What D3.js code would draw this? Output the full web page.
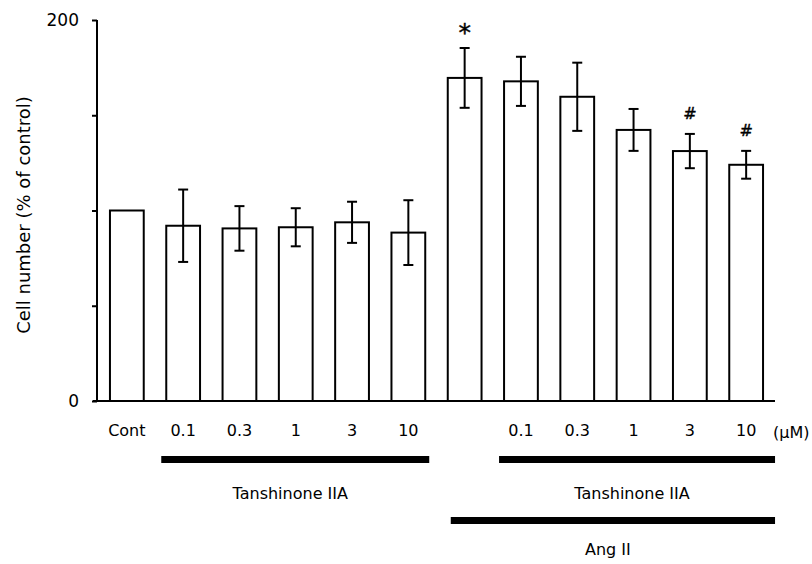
<!DOCTYPE html>
<html>
<head>
<meta charset="utf-8">
<script src="https://cdnjs.cloudflare.com/ajax/libs/d3/7.8.5/d3.min.js"></script>
<style>
body{margin:0;background:#fff;}
svg text{font-family:"DejaVu Sans",sans-serif;fill:#000;}
</style>
</head>
<body>
<div id="chart"></div>
<script>
var labels=['Cont','0.1','0.3','1','3','10','a','0.1','0.3','1','3','10'];
var means=[100,92,90.6,91.2,93.8,88.4,169.6,167.8,159.7,142.3,131.2,124.0];
var errs=[0,19,11.7,10,10.8,17,15.7,12.9,17.9,11,9,7.3];
var marks=['','','','','','','*','','','','#','#'];
var yTicks=[0,50,100,150,200];
var yTickLabels=['0','','','','200'];
var groupNames=['Tanshinone IIA','Tanshinone IIA','Ang II'];
var groupFrom=[1,7,6];
var groupTo=[5,11,11];
var groupRow=[0,0,1];

var width=812,height=564;
var font='"DejaVu Sans",sans-serif';
var svg=d3.select('#chart').append('svg')
  .attr('width',width)
  .attr('height',height);

var ids=labels.map(function(d,i){return i;});
var x=d3.scaleBand().domain(ids).range([98.7,774.3]).paddingInner(0.4).paddingOuter(0.2);
var y=d3.scaleLinear().domain([0,200]).range([401,20]);
var bw=x.bandwidth();

// bars
svg.selectAll('rect.bar')
  .data(ids)
  .enter()
  .append('rect')
  .attr('class','bar')
  .attr('x',function(i){return x(i);})
  .attr('y',function(i){return y(means[i]);})
  .attr('width',bw)
  .attr('height',function(i){return y(0)-y(means[i]);})
  .attr('fill','white')
  .attr('stroke','black')
  .attr('stroke-width',2);

// error bars (cont has none)
var withErr=ids.filter(function(i){return errs[i]>0;});
var eb=svg.selectAll('g.err')
  .data(withErr)
  .enter()
  .append('g')
  .attr('class','err')
  .attr('transform',function(i){return 'translate('+(x(i)+bw/2)+',0)';});
eb.append('line')
  .attr('x1',0).attr('x2',0)
  .attr('y1',function(i){return y(means[i]+errs[i]);})
  .attr('y2',function(i){return y(means[i]-errs[i]);});
eb.append('line')
  .attr('x1',-5).attr('x2',5)
  .attr('y1',function(i){return y(means[i]+errs[i]);})
  .attr('y2',function(i){return y(means[i]+errs[i]);});
eb.append('line')
  .attr('x1',-5).attr('x2',5)
  .attr('y1',function(i){return y(means[i]-errs[i]);})
  .attr('y2',function(i){return y(means[i]-errs[i]);});
svg.selectAll('g.err line').attr('stroke','black').attr('stroke-width',2);

// significance marks
svg.selectAll('text.mark')
  .data(ids.filter(function(i){return marks[i]!='';}))
  .enter()
  .append('text')
  .attr('class','mark')
  .attr('x',function(i){return x(i)+bw/2;})
  .attr('y',function(i){
    if(marks[i]=='*'){
      return y(means[i]+errs[i])-7;
    }else {
      return y(means[i]+errs[i])-15;
    }
  })
  .attr('text-anchor','middle')
  .style('font-size',function(i){return marks[i]=='*'?'25px':'16px';})
  .style('stroke','black')
  .style('stroke-width',0.4)
  .text(function(i){return marks[i];});

// y axis
var yAxis=svg.append('g')
  .attr('transform','translate(97,0)')
  .call(d3.axisLeft(y).tickValues(yTicks).tickSize(5).tickPadding(13)
    .tickFormat(function(d,i){return yTickLabels[i];}));
yAxis.select('.domain').attr('stroke','black').attr('stroke-width',2).attr('d','M0,20V401');
yAxis.selectAll('.tick line').attr('stroke','black').attr('stroke-width',2);
yAxis.selectAll('.tick text').style('font-size','17px').style('font-family',font);

// x axis
var xAxis=svg.append('g')
  .attr('transform','translate(0,401)')
  .call(d3.axisBottom(x).tickSize(0).tickPadding(24)
    .tickFormat(function(d){return labels[d]=='a'?'':labels[d];}));
xAxis.select('.domain').remove();
xAxis.selectAll('.tick text').style('font-size','16px').style('font-family',font);
svg.append('line')
  .attr('x1',93).attr('x2',775)
  .attr('y1',y(0)).attr('y2',y(0))
  .attr('stroke','black').attr('stroke-width',2);

svg.append('text')
  .attr('x',x(11)+bw+10)
  .attr('y',438)
  .style('font-size','16px')
  .text('(\u03bcM)');

// treatment bars under axis
function groupLeft(i){return x(groupFrom[i])-(groupFrom[i]==6?-3:5);}
function groupRight(i){return x(groupTo[i])+bw+(groupTo[i]==11?12:4);}
svg.selectAll('rect.group')
  .data(groupNames)
  .enter()
  .append('rect')
  .attr('class','group')
  .attr('x',function(d,i){return groupLeft(i);})
  .attr('y',function(d,i){return 456+groupRow[i]*61;})
  .attr('width',function(d,i){return groupRight(i)-groupLeft(i);})
  .attr('height',7)
  .attr('fill','black');

svg.selectAll('text.group')
  .data(groupNames)
  .enter()
  .append('text')
  .attr('class','group')
  .attr('x',function(d,i){return (groupLeft(i)+groupRight(i))/2-5;})
  .attr('y',function(d,i){return 499+groupRow[i]*56;})
  .attr('text-anchor','middle')
  .style('font-size','16px')
  .text(function(d){return d;});

// y label
svg.append('text')
  .attr('transform','translate(30,215) rotate(-90)')
  .attr('text-anchor','middle')
  .style('font-size','18px')
  .text('Cell number (% of control)');
</script>
</body>
</html>
